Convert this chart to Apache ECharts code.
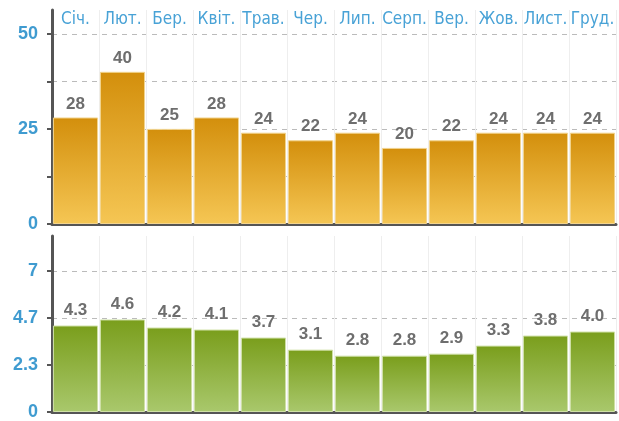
<!DOCTYPE html>
<html>
<head>
<meta charset="utf-8">
<script src="https://cdn.jsdelivr.net/npm/echarts@6/dist/echarts.min.js"></script>
<style>
	html,body{margin:0;padding:0;background:#fff;}
	#main{width:619px;height:421px;}
</style>
</head>
<body>
<div id="main"></div>
<script>
var months = ['Січ.','Лют.','Бер.','Квіт.','Трав.','Чер.','Лип.','Серп.','Вер.','Жов.','Лист.','Груд.'];
var topValues = [28,40,25,28,24,22,24,20,22,24,24,24];
var bottomValues = [4.3,4.6,4.2,4.1,3.7,3.1,2.8,2.8,2.9,3.3,3.8,4.0];
var topTicks = [0,12.5,25,37.5,50];
var topLabels = [0,25,50];
var bottomTicks = [0,7/3,14/3,7];

var axisColor = '#555';
var blue = '#3f9bd0';

function yAxisOf(gridIndex, max, ticks, labels, fmt){
	return {
		type:'value',
		gridIndex:gridIndex,
		min:0,
		max:max,
		axisLine:{show:true,lineStyle:{color:axisColor,width:3}},
		axisTick:{show:true,length:5,customValues:ticks,lineStyle:{color:axisColor,width:2}},
		axisLabel:{customValues:labels,color:blue,fontSize:18,fontWeight:'bold',fontFamily:'Liberation Sans',margin:14,formatter:fmt},
		splitLine:{show:true,lineStyle:{color:'#bbb',type:[5,5],width:1}}
	};
}

var chart = echarts.init(document.getElementById('main'));
chart.setOption({
	animation:false,
	grid:[
		{left:52,right:3,top:10,height:214},
		{left:52,right:3,top:236,height:178}
	],
	xAxis:[
		{
			type:'category',gridIndex:0,data:months,position:'bottom',
			axisLine:{show:true,onZero:false,lineStyle:{color:axisColor,width:3}},
			axisTick:{show:false},axisLabel:{show:false},
			splitLine:{show:true,lineStyle:{color:'#eee',width:1}}
		},
		{
			type:'category',gridIndex:0,data:months,position:'top',
			axisLine:{show:false},axisTick:{show:false},
			axisLabel:{inside:true,interval:0,margin:0,color:'#48a2d6',fontSize:17,fontFamily:'DejaVu Sans Condensed',verticalAlign:'top',padding:[1,0,0,0]},
			splitLine:{show:false}
		},
		{
			type:'category',gridIndex:1,data:months,
			axisLine:{show:true,onZero:false,lineStyle:{color:axisColor,width:3}},
			axisTick:{show:false},axisLabel:{show:false},
			splitLine:{show:true,lineStyle:{color:'#eee',width:1}}
		}
	],
	yAxis:[
		yAxisOf(0,56.25,topTicks,topLabels,function(v){return String(v);}),
		yAxisOf(1,8.75,bottomTicks,bottomTicks,function(v){return String(Math.round(v*10)/10);})
	],
	series:[
		{
			type:'bar',xAxisIndex:0,yAxisIndex:0,data:topValues,
			barCategoryGap:'4%',
			itemStyle:{
				color:new echarts.graphic.LinearGradient(0,0,0,1,[{offset:0,color:'#d38f0c'},{offset:1,color:'#f5c654'}]),
				borderColor:'#f2d48e',borderWidth:1
			},
			label:{show:true,position:'top',distance:5,color:'#6e6e6e',fontSize:17,fontWeight:'bold',fontFamily:'Liberation Sans'}
		},
		{
			type:'bar',xAxisIndex:2,yAxisIndex:1,data:bottomValues,
			barCategoryGap:'4%',
			itemStyle:{
				color:new echarts.graphic.LinearGradient(0,0,0,1,[{offset:0,color:'#7a9e1c'},{offset:1,color:'#a9c86c'}]),
				borderColor:'#cfe0a6',borderWidth:1
			},
			label:{show:true,position:'top',distance:7,color:'#6e6e6e',fontSize:17,fontWeight:'bold',fontFamily:'Liberation Sans',
				formatter:function(p){return p.value.toFixed(1);}}
		}
	]
});
</script>
</body>
</html>
